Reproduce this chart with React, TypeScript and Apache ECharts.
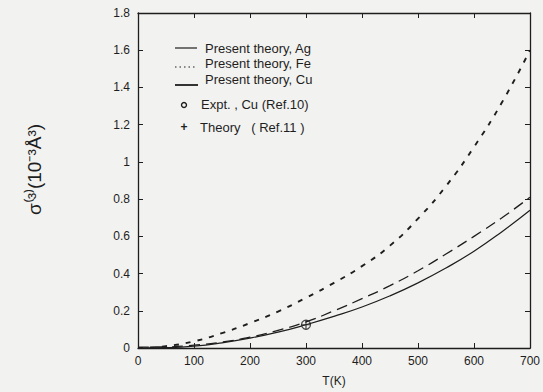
import React, { useEffect, useRef } from "react";
import * as echarts from "echarts";

const temps = [0, 50, 100, 150, 200, 250, 300, 350, 400, 450, 500, 550, 600, 650, 700];
const cuValues = [0, 0.002, 0.01, 0.028, 0.053, 0.085, 0.125, 0.17, 0.22, 0.28, 0.35, 0.43, 0.52, 0.625, 0.74];
const agValues = [0.005, 0.006, 0.015, 0.032, 0.058, 0.095, 0.14, 0.2, 0.265, 0.335, 0.415, 0.505, 0.6, 0.7, 0.81];
const feValues = [0, 0.01, 0.036, 0.08, 0.134, 0.196, 0.27, 0.35, 0.44, 0.55, 0.695, 0.87, 1.08, 1.32, 1.6];
const exptCu = [[300, 0.125]];
const theoryRef11 = [[300, 0.125]];
const legendLabels = [
  "Present theory, Ag",
  "Present theory, Fe",
  "Present theory, Cu",
  "Expt. , Cu (Ref.10)",
  "Theory   ( Ref.11 )",
];

const INK = "#1e1e1e";
const FONT = "Liberation Sans, Arial, sans-serif";

export default function App() {
  const ref = useRef<HTMLDivElement>(null);
  useEffect(() => {
    if (!ref.current) return;
    const chart = echarts.init(ref.current, undefined, { renderer: "svg" });
    const zip = (vals: number[]) => temps.map((t, i) => [t, vals[i]]);
    const axisCommon = {
      type: "value" as const,
      axisLine: { show: true, onZero: false, lineStyle: { color: INK, width: 1.3 } },
      axisTick: { show: true, inside: true, length: 5, lineStyle: { color: INK } },
      splitLine: { show: false },
    };
    const ly = [48, 63, 79, 104, 127];
    const graphic: any[] = [
      { type: "line", shape: { x1: 175, y1: ly[0], x2: 197, y2: ly[0] }, style: { stroke: INK, lineWidth: 1.2 } },
      { type: "line", shape: { x1: 175, y1: ly[1] + 4, x2: 197, y2: ly[1] + 4 }, style: { stroke: INK, lineWidth: 1.2, lineDash: [1.5, 3] } },
      { type: "line", shape: { x1: 175, y1: ly[2] + 6, x2: 198, y2: ly[2] + 6 }, style: { stroke: INK, lineWidth: 1.8 } },
      { type: "circle", shape: { cx: 184, cy: ly[3] + 1, r: 2.5 }, style: { fill: "none", stroke: INK, lineWidth: 1.4 } },
      { type: "text", x: 184, y: ly[4], style: { text: "+", font: `bold 12px ${FONT}`, fill: INK, align: "center", verticalAlign: "middle" } },
    ];
    const textX = [205, 205, 205, 201, 200];
    legendLabels.forEach((t, i) => {
      graphic.push({
        type: "text",
        x: textX[i],
        y: ly[i],
        style: { text: t, font: `13px ${FONT}`, fill: INK, verticalAlign: "middle" },
      });
    });
    chart.setOption({
      animation: false,
      backgroundColor: "#f2f2f0",
      grid: { left: 138, right: 13, top: 13, bottom: 42, containLabel: false },
      xAxis: [
        {
          ...axisCommon,
          min: 0,
          max: 700,
          interval: 100,
          name: "T(K)",
          nameLocation: "middle",
          nameGap: 27,
          nameTextStyle: { color: INK, fontSize: 12, fontFamily: FONT },
          axisLabel: { color: INK, fontSize: 12, fontFamily: FONT, margin: 7 },
        },
        {
          ...axisCommon,
          position: "top",
          min: 0,
          max: 700,
          interval: 100,
          axisLabel: { show: false },
        },
      ],
      yAxis: [
        {
          ...axisCommon,
          min: 0,
          max: 1.8,
          interval: 0.2,
          name: "σ⁽³⁾(10⁻³Å³)",
          nameLocation: "middle",
          nameRotate: 90,
          nameGap: 94,
          nameTextStyle: { color: INK, fontSize: 19, fontFamily: FONT, padding: [0, 0, 0, 22] },
          axisLabel: {
            color: INK,
            fontSize: 12,
            fontFamily: FONT,
            margin: 8,
            formatter: (v: number) => String(Math.round(v * 10) / 10),
          },
        },
        {
          ...axisCommon,
          position: "right",
          min: 0,
          max: 1.8,
          interval: 0.2,
          axisLabel: { show: false },
        },
      ],
      series: [
        {
          name: "Present theory, Ag",
          type: "line",
          smooth: true,
          symbol: "none",
          data: zip(agValues),
          lineStyle: { color: INK, width: 1.3, type: [11, 6] },
        },
        {
          name: "Present theory, Fe",
          type: "line",
          smooth: true,
          symbol: "none",
          data: zip(feValues),
          lineStyle: { color: INK, width: 1.9, type: [5, 7] },
        },
        {
          name: "Present theory, Cu",
          type: "line",
          smooth: true,
          symbol: "none",
          data: zip(cuValues),
          lineStyle: { color: INK, width: 1.2 },
        },
        {
          name: "Expt. , Cu (Ref.10)",
          type: "scatter",
          symbol: "circle",
          symbolSize: 9,
          data: exptCu,
          itemStyle: { color: "none", borderColor: INK, borderWidth: 1.2 },
        },
        {
          name: "Theory ( Ref.11 )",
          type: "scatter",
          symbol: "path://M0,-5L0,5M-5,0L5,0",
          symbolSize: 9,
          data: theoryRef11,
          itemStyle: { color: "none", borderColor: INK, borderWidth: 1.2 },
        },
      ],
      graphic,
    });
    return () => chart.dispose();
  }, []);
  return <div ref={ref} style={{ width: 543, height: 392, position: "absolute", left: 0, top: 0 }} />;
}
